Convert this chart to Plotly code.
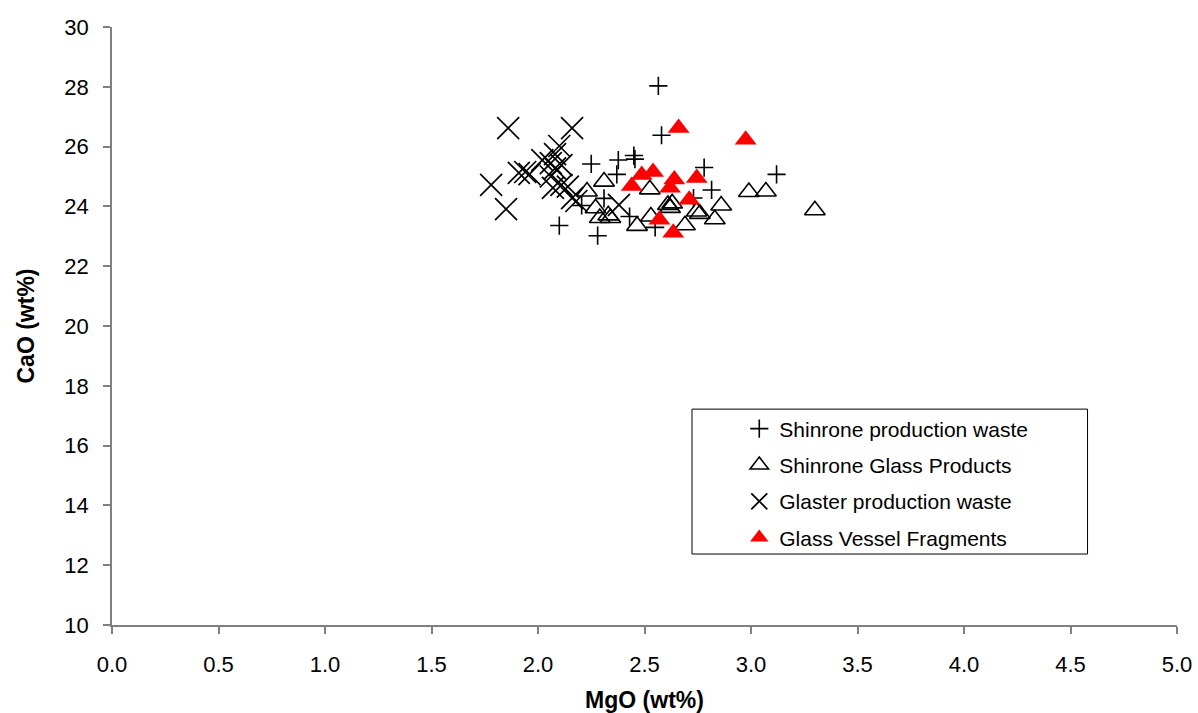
import plotly.graph_objects as go

# Shinrone production waste (+)
shin_waste_mgo = [2.565, 2.58, 2.78, 2.815, 3.12, 2.55, 2.73, 2.45, 2.25, 2.377, 2.455, 2.37, 2.205, 2.31, 2.28, 2.43, 2.10]
shin_waste_cao = [28.03, 26.38, 25.30, 24.55, 25.07, 23.30, 24.28, 25.70, 25.42, 25.55, 25.58, 25.07, 24.03, 24.27, 23.02, 23.66, 23.36]

# Shinrone Glass Products (open triangles)
shin_prod_mgo = [2.23, 2.31, 2.27, 2.29, 2.34, 2.33, 2.465, 2.53, 2.525, 2.61, 2.62, 2.63, 2.69, 2.745, 2.76, 2.83, 2.86, 2.99, 3.07, 3.30]
shin_prod_cao = [24.50, 24.83, 23.94, 23.61, 23.61, 23.70, 23.35, 23.66, 24.57, 24.05, 23.95, 24.10, 23.37, 23.83, 23.75, 23.57, 24.03, 24.48, 24.50, 23.87]

# Glaster production waste (x)
glaster_mgo = [1.86, 2.16, 1.78, 1.85, 2.10, 1.91, 1.94, 1.96, 2.02, 2.06, 2.08, 2.11, 2.06, 2.07, 2.11, 2.14, 2.16, 2.18, 2.38, 2.08]
glaster_cao = [26.62, 26.62, 24.72, 23.91, 26.02, 25.12, 25.15, 25.08, 25.55, 25.45, 25.27, 25.38, 25.00, 24.62, 24.72, 24.66, 24.28, 24.18, 24.05, 25.75]

# Glass Vessel Fragments (filled red triangles)
vessel_mgo = [2.66, 2.975, 2.44, 2.487, 2.54, 2.62, 2.64, 2.745, 2.71, 2.57, 2.635]
vessel_cao = [26.62, 26.23, 24.68, 25.05, 25.15, 24.62, 24.90, 24.95, 24.22, 23.55, 23.12]

x_ticks = [0.0, 0.5, 1.0, 1.5, 2.0, 2.5, 3.0, 3.5, 4.0, 4.5, 5.0]
y_ticks = [10, 12, 14, 16, 18, 20, 22, 24, 26, 28, 30]

FONT = "Arial, Liberation Sans, sans-serif"

fig = go.Figure()
fig.add_trace(go.Scatter(
    x=shin_waste_mgo, y=shin_waste_cao, mode="markers", name="Shinrone production waste",
    legendgroup="a",
    marker=dict(symbol="cross-thin", size=13, color="black", line=dict(color="black", width=1.6))))
fig.add_trace(go.Scatter(
    x=shin_prod_mgo, y=shin_prod_cao, mode="markers", name="Shinrone Glass Products",
    legendgroup="b",
    marker=dict(symbol="triangle-up-open", size=18, color="black", line=dict(color="black", width=1.6))))
fig.add_trace(go.Scatter(
    x=glaster_mgo, y=glaster_cao, mode="markers", name="Glaster production waste",
    legendgroup="c",
    marker=dict(symbol="x-thin", size=22, color="black", line=dict(color="black", width=1.7))))
fig.add_trace(go.Scatter(
    x=vessel_mgo, y=vessel_cao, mode="markers", name="Glass Vessel Fragments",
    legendgroup="d",
    marker=dict(symbol="triangle-up", size=19, color="#ff0000", line=dict(width=0))))

# legend frame
fig.add_shape(type="rect", xref="paper", yref="paper",
              x0=0.5446, x1=0.916, y0=0.1187, y1=0.361,
              line=dict(color="black", width=1), fillcolor="rgba(0,0,0,0)", layer="below")

fig.update_layout(
    width=1198, height=713,
    margin=dict(l=112, r=21, t=27, b=88),
    paper_bgcolor="white", plot_bgcolor="white",
    font=dict(family=FONT, size=21, color="black"),
    showlegend=True,
    legend=dict(x=0.589, y=0.362, xanchor="left", yanchor="top",
                bgcolor="rgba(0,0,0,0)", borderwidth=0,
                font=dict(family=FONT, size=21, color="black"),
                tracegroupgap=6, itemsizing="trace"),
    xaxis=dict(range=[0, 5], tickvals=x_ticks, ticktext=[f"{v:.1f}" for v in x_ticks],
               showgrid=False, zeroline=False, showline=True, linecolor="#808080", linewidth=1.5,
               ticks="outside", ticklen=7, tickcolor="#808080", tickwidth=1.5,
               tickfont=dict(size=22), ticklabelstandoff=12, automargin=False,
               title=dict(text="<b>MgO (wt%)</b>", font=dict(size=23), standoff=18)),
    yaxis=dict(range=[10, 30], tickvals=y_ticks, ticktext=[str(v) for v in y_ticks],
               showgrid=False, zeroline=False, showline=True, linecolor="#808080", linewidth=1.5,
               ticks="outside", ticklen=7, tickcolor="#808080", tickwidth=1.5,
               tickfont=dict(size=22), ticklabelstandoff=10, automargin=False,
               title=dict(text="<b>CaO (wt%)</b>", font=dict(size=23), standoff=23)),
)

fig.write_html("out.html", config={"displayModeBar": False},
               post_script="document.body.style.margin='0px';document.body.style.overflow='hidden';")
